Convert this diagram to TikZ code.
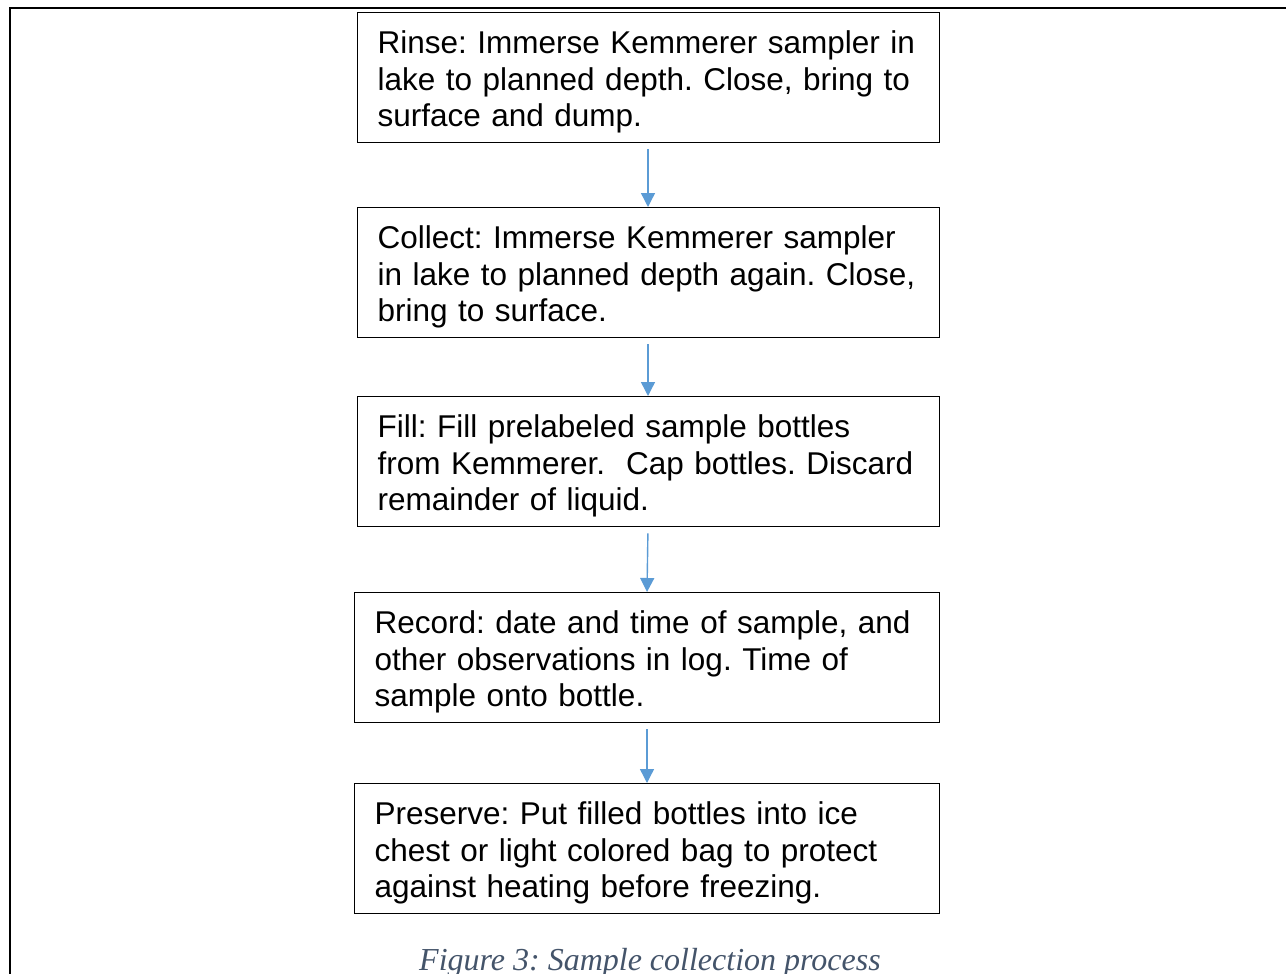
\documentclass[tikz,border=0pt]{standalone}
\usepackage{fontspec}
\setmainfont{Liberation Sans}
\newfontfamily\capfont{Liberation Serif}
\usetikzlibrary{arrows.meta}
\definecolor{arrowblue}{HTML}{5B9BD5}
\definecolor{capgray}{HTML}{44546A}
\frenchspacing
\newcommand{\boxline}[1]{\mbox{#1}}
\newcommand{\boxtop}{\rule{0pt}{31.5pt}}
\tikzset{
  stepbox/.style={draw=black, line width=1.3pt, rectangle, minimum height=130pt,
    inner xsep=20pt, inner ysep=0pt, align=left, anchor=north west,
    font=\fontsize{31.5pt}{36.8pt}\selectfont},
  flow/.style={draw=arrowblue, line width=1.4pt, -{Triangle[width=14pt,length=14pt]}, shorten <=6pt, shorten >=0pt},
}
\begin{document}
\begin{tikzpicture}[x=1pt,y=-1pt]
\useasboundingbox (0,0) rectangle (1286,974);
\draw[line width=2pt] (10,975) -- (10,8) -- (1287,8);
\node[stepbox, text width=542pt] (b1) at (357,12) {\boxline{\boxtop Rinse: Immerse Kemmerer sampler in}\\\boxline{lake to planned depth. Close, bring to}\\\boxline{surface and dump.}};
\node[stepbox, text width=542pt] (b2) at (357,207) {\boxline{\boxtop Collect: Immerse Kemmerer sampler}\\\boxline{in lake to planned depth again. Close,}\\\boxline{bring to surface.}};
\node[stepbox, text width=542pt] (b3) at (357,396) {\boxline{\boxtop Fill: Fill prelabeled sample bottles}\\\boxline{from Kemmerer.\ \ Cap bottles. Discard}\\\boxline{remainder of liquid.}};
\node[stepbox, text width=545pt] (b4) at (354,592) {\boxline{\boxtop Record: date and time of sample, and}\\\boxline{other observations in log. Time of}\\\boxline{sample onto bottle.}};
\node[stepbox, text width=545pt] (b5) at (354,783) {\boxline{\boxtop Preserve: Put filled bottles into ice}\\\boxline{chest or light colored bag to protect}\\\boxline{against heating before freezing.}};
\draw[flow] (b1.south -| 648,0) -- (b2.north -| 648,0);
\draw[flow] (b2.south -| 648,0) -- (b3.north -| 648,0);
\draw[flow] (b3.south -| 648,0) -- (b4.north -| 647,0);
\draw[flow] (b4.south -| 647,0) -- (b5.north -| 647,0);
\node[anchor=base, text=capgray, font=\capfont\itshape\fontsize{32pt}{36pt}\selectfont] (cap) at (650,970) {Figure 3: Sample collection process};
\end{tikzpicture}
\end{document}
